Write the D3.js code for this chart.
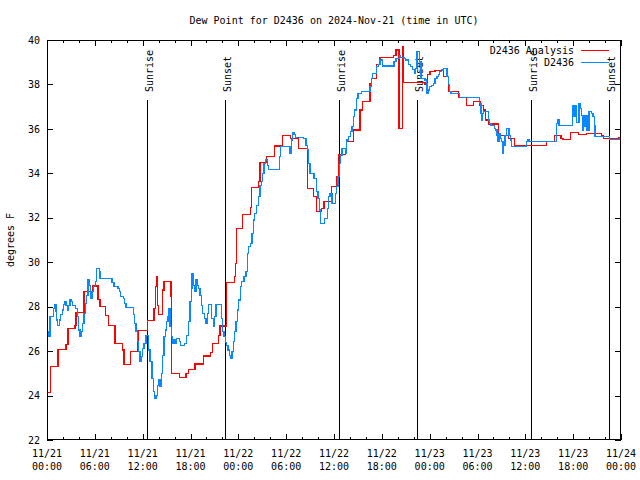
<!DOCTYPE html>
<html><head><meta charset="utf-8">
<script src="https://cdn.jsdelivr.net/npm/d3@7"></script>
<style>
body{margin:0;background:#fff}
svg{display:block}
text{font-family:"DejaVu Sans Mono",monospace;font-size:10px;fill:#000}
</style>
</head><body>
<svg id="chart" width="640" height="480"></svg>
<script>
const title = "Dew Point for D2436 on 2024-Nov-21 (time in UTC)";
const yLabel = "degrees F";
const yTicks = [22, 24, 26, 28, 30, 32, 34, 36, 38, 40];
const xMajorHours = [0, 6, 12, 18, 24, 30, 36, 42, 48, 54, 60, 66, 72];
const xMinorHours = d3.range(0, 73, 2);
const xTickLabels = [
  ["11/21","00:00"],["11/21","06:00"],["11/21","12:00"],["11/21","18:00"],
  ["11/22","00:00"],["11/22","06:00"],["11/22","12:00"],["11/22","18:00"],
  ["11/23","00:00"],["11/23","06:00"],["11/23","12:00"],["11/23","18:00"],
  ["11/24","00:00"]];
const sunEventHours = [12.58, 22.35, 36.67, 46.45, 60.75, 70.48];
const sunEventLabels = ["Sunrise", "Sunset", "Sunrise", "Sunset", "Sunrise", "Sunset"];
const seriesNames = ["D2436 Analysis", "D2436"];
const seriesColors = ["#ff0000", "#0a88ff"];

const analysisHours = [0,0.46,1.38,2.38,2.63,3.51,3.64,4.64,5.77,6.40,6.65,7.36,7.69,8.53,9.45,9.66,10.5,11.41,12.58,13.42,13.59,13.76,13.89,13.96,14.51,14.68,15.55,15.64,16.6,17.44,17.72,18.57,19.61,20.53,20.74,21.49,21.7,22.52,23.5,23.62,23.8,24.5,25.55,25.68,26.51,26.72,27.56,28.51,29.52,30.57,31.57,32.65,33.4,33.83,34.46,34.75,35.71,36.34,36.63,37.47,37.6,38.42,39.26,39.55,40.52,40.73,41.36,41.77,43.44,43.78,44.15,44.57,44.74,47.42,47.76,48.04,48.67,49.71,50.34,51.59,52.65,53.48,54.32,54.73,55.03,55.36,56.61,57.87,58.62,62.68,63.64,64.48,64.73,65.69,66.65,67.7,69.58,69.78,71.66,72];
const analysisValues = [24.15,25.3,26.08,26.3,27.0,27.17,27.74,28.7,28.93,28.33,28.0,27.6,27.17,26.35,26.05,25.4,25.97,26.94,27.39,27.92,28.9,29.35,28.07,27.66,28.75,29.15,28.45,25.0,24.83,25.0,25.18,25.42,25.78,25.95,26.35,26.72,27.13,29.1,29.35,29.95,31.5,32.15,32.45,33.37,33.65,34.5,34.75,35.23,35.7,35.58,35.13,33.33,32.95,32.3,32.42,32.72,33.4,33.85,34.86,35.13,35.43,35.95,36.85,37.22,38.05,38.25,38.88,39.2,39.3,39.55,36.0,39.7,38.1,38.0,38.45,38.57,38.62,38.35,37.67,37.42,37.05,37.22,37.07,36.85,36.4,36.22,35.72,35.58,35.27,35.43,35.72,35.58,35.53,35.83,35.75,35.8,35.68,35.58,35.62,35.62];

const obsHours = [0,0.13,0.38,0.79,0.97,1.13,1.22,1.29,1.54,1.72,1.92,2.04,2.22,2.38,2.55,2.72,2.89,3.05,3.22,3.55,3.8,3.98,4.14,4.3,4.48,4.64,4.8,4.98,5.14,5.31,5.48,5.64,5.81,6.06,6.23,6.56,6.65,8.15,8.4,8.91,9.07,9.24,9.57,9.75,9.91,10.83,11.0,11.16,11.33,11.5,11.67,11.83,12.0,12.17,12.42,12.76,12.92,13.17,13.33,13.51,13.67,13.84,14.01,14.17,14.34,14.51,14.68,14.84,15.02,15.18,15.3,15.43,15.59,15.77,15.93,16.09,16.27,16.6,16.77,17.27,17.52,17.78,17.94,18.1,18.19,18.35,18.53,18.69,18.85,19.03,19.19,19.36,19.53,19.78,19.95,20.11,20.28,20.61,20.86,21.04,21.2,21.86,22.04,22.2,22.37,22.54,22.7,22.87,23.04,23.21,23.37,23.55,23.71,23.87,24.05,24.25,24.42,24.71,24.96,25.13,25.3,25.55,25.72,25.88,26.05,26.3,26.56,26.72,26.88,27.06,27.22,27.38,27.64,27.81,29.14,29.32,30.48,30.65,30.82,30.98,31.15,32.15,32.49,32.65,32.83,32.99,33.49,33.83,33.99,34.16,34.33,34.83,35.16,35.34,35.5,35.75,36.16,36.34,36.5,36.67,36.84,37.0,37.42,37.6,37.85,38.1,38.26,38.42,38.6,38.85,39.01,39.43,40.52,40.68,40.86,41.36,41.56,41.77,42.11,43.53,43.78,44.19,44.37,44.78,44.95,45.37,45.62,45.87,46.07,46.25,46.41,46.75,46.92,47.42,47.58,47.67,47.83,48.01,48.26,48.51,48.67,48.92,49.09,49.26,49.51,49.76,50.18,50.34,50.51,50.68,51.77,54.28,54.44,54.53,54.61,54.78,55.36,55.53,55.7,56.11,56.29,56.45,56.54,56.7,56.86,57.04,57.2,57.29,57.45,57.62,57.95,58.12,58.29,60.13,60.31,60.46,63.94,64.07,64.23,65.89,66.07,66.23,66.4,66.73,66.9,67.07,67.15,67.24,67.4,67.53,67.66,67.74,67.86,67.99,68.33,68.49,68.65,68.74,70.59,71.88,72];
const obsValues = [26.87,26.65,27.55,27.92,28.1,27.77,27.4,27.17,27.4,27.66,27.85,28.1,28.25,28.04,27.85,28.07,28.34,28.22,28.07,27.9,27.55,26.95,26.65,26.87,27.25,27.7,28.15,28.52,29.24,28.97,28.37,28.67,28.9,29.13,29.73,29.58,29.28,29.1,28.9,28.83,28.67,28.45,28.37,28.15,27.97,27.66,27.25,26.87,26.45,25.97,25.52,25.75,26.12,26.35,26.72,26.05,25.52,24.77,24.17,23.87,24.02,24.47,24.7,24.4,25.0,25.82,26.65,26.95,27.32,27.55,27.92,27.1,26.65,26.35,26.5,26.35,26.57,26.42,26.27,26.35,26.72,27.32,28.22,28.83,29.5,28.97,28.67,29.2,28.97,28.83,28.52,28.07,27.7,27.47,27.25,27.7,28.1,27.47,27.1,27.55,28.1,27.47,26.87,26.65,26.4,26.27,26.05,25.82,25.67,25.97,26.42,26.87,27.32,27.85,28.3,28.9,29.13,29.35,29.58,30.4,30.7,30.85,31.3,31.9,32.2,32.57,32.95,33.47,33.62,34.0,34.45,34.6,34.37,34.18,34.75,35.2,34.9,35.5,35.83,35.75,35.62,35.58,35.27,35.05,34.45,34.0,33.77,33.18,32.87,32.35,31.75,31.97,32.42,32.95,33.1,32.65,33.1,33.4,33.85,34.45,34.82,35.13,34.9,35.5,35.65,35.88,36.1,36.55,36.85,37.38,37.6,37.67,37.9,38.28,38.5,38.8,38.88,39.1,38.83,39.03,39.18,39.32,39.22,39.18,39.1,38.88,38.8,38.68,38.5,38.72,39.47,39.03,38.28,38.2,38.05,37.6,37.75,37.9,37.97,38.05,38.28,38.35,38.46,38.57,38.65,38.7,38.35,38.0,37.67,37.6,37.4,37.15,36.7,36.4,36.7,36.77,36.4,36.25,36.17,36.03,35.95,35.72,35.42,35.8,35.58,35.42,34.9,35.27,35.72,36.0,35.72,35.5,35.2,35.42,35.5,35.42,36.25,36.43,36.17,37.07,36.55,37.07,36.3,37.15,36.93,36.6,35.95,36.62,36.1,36.62,35.95,36.62,35.95,36.77,36.7,36.55,36.17,35.65,35.53,35.58,35.58];

const t0 = Date.UTC(2024, 10, 21);
const hr = h => new Date(t0 + h * 3600000);

const svg = d3.select("#chart");
const L = 47, R = 621, T = 40, B = 440;
const x = d3.scaleUtc().domain([hr(0), hr(72)]).range([L, R]);
const y = d3.scaleLinear().domain([22, 40]).range([B, T]);

svg.append("rect").attr("width", 640).attr("height", 480).attr("fill", "#fff");

// title
svg.append("text").attr("x", (L + R) / 2).attr("y", 24).attr("text-anchor", "middle").text(title);
// y label
svg.append("text").attr("transform", `translate(14,${(T + B) / 2}) rotate(-90)`)
  .attr("text-anchor", "middle").text(yLabel);

// clip
svg.append("clipPath").attr("id", "clip").append("rect")
  .attr("x", L).attr("y", T).attr("width", R - L).attr("height", B - T);

// sunrise / sunset markers
const sun = svg.append("g");
sunEventHours.forEach((h, i) => {
  const xx = Math.round(x(hr(h))) + 0.5;
  sun.append("line").attr("x1", xx).attr("x2", xx).attr("y1", 100).attr("y2", B)
    .attr("stroke", "#000").attr("stroke-width", 1).attr("shape-rendering", "crispEdges");
  sun.append("text").attr("transform", `translate(${xx + 5},92) rotate(-90)`)
    .attr("text-anchor", "start").text(sunEventLabels[i]);
});

// axes ticks (inward, mirrored)
function tickStyle(g) {
  g.select(".domain").remove();
  g.selectAll("line").attr("stroke", "#000").attr("shape-rendering", "crispEdges");
  g.selectAll("text").style("font-family", '"DejaVu Sans Mono",monospace').style("font-size", "10px");
}
const majorDates = xMajorHours.map(hr);
const minorDates = xMinorHours.filter(h => h % 6 !== 0).map(hr);
svg.append("g").attr("transform", `translate(0,${B})`)
  .call(d3.axisBottom(x).tickValues(majorDates).tickSizeInner(-6).tickSizeOuter(0).tickFormat(""))
  .call(tickStyle);
svg.append("g").attr("transform", `translate(0,${B})`)
  .call(d3.axisBottom(x).tickValues(minorDates).tickSizeInner(-3).tickSizeOuter(0).tickFormat(""))
  .call(tickStyle);
svg.append("g").attr("transform", `translate(0,${T})`)
  .call(d3.axisTop(x).tickValues(majorDates).tickSizeInner(-6).tickSizeOuter(0).tickFormat(""))
  .call(tickStyle);
svg.append("g").attr("transform", `translate(0,${T})`)
  .call(d3.axisTop(x).tickValues(minorDates).tickSizeInner(-3).tickSizeOuter(0).tickFormat(""))
  .call(tickStyle);
svg.append("g").attr("transform", `translate(${L},0)`)
  .call(d3.axisLeft(y).tickValues(yTicks).tickSizeInner(-6).tickSizeOuter(0).tickPadding(7).tickFormat(d3.format("d")))
  .call(tickStyle);
svg.append("g").attr("transform", `translate(${R},0)`)
  .call(d3.axisRight(y).tickValues(yTicks).tickSizeInner(-6).tickSizeOuter(0).tickFormat(""))
  .call(tickStyle);

// x tick labels (two lines)
const xl = svg.append("g");
xMajorHours.forEach((h, i) => {
  const t = xl.append("text").attr("text-anchor", "middle");
  t.append("tspan").attr("x", x(hr(h))).attr("y", 457).text(xTickLabels[i][0]);
  t.append("tspan").attr("x", x(hr(h))).attr("y", 470).text(xTickLabels[i][1]);
});

// data
const line = d3.line().curve(d3.curveStepAfter).x(d => x(hr(d[0]))).y(d => y(d[1]));
const analysis = analysisHours.map((h, i) => [h, analysisValues[i]]);
const obs = obsHours.map((h, i) => [h, obsValues[i]]);
const dg = svg.append("g").attr("clip-path", "url(#clip)");
[analysis, obs].forEach((data, i) => {
  dg.append("path").datum(data).attr("d", line).attr("fill", "none")
    .attr("stroke", seriesColors[i]).attr("stroke-width", 1.2)
    .attr("shape-rendering", "crispEdges");
});

// border
svg.append("rect").attr("x", L + 0.5).attr("y", T + 0.5).attr("width", R - L - 1).attr("height", B - T - 1)
  .attr("fill", "none").attr("stroke", "#000").attr("shape-rendering", "crispEdges");

// legend
const lg = svg.append("g");
seriesNames.forEach((n, i) => {
  const yy = 50 + i * 12;
  lg.append("text").attr("x", 574).attr("y", yy).attr("dy", "0.35em").attr("text-anchor", "end").text(n);
  lg.append("line").attr("x1", 581).attr("x2", 609).attr("y1", yy + 0.5).attr("y2", yy + 0.5)
    .attr("stroke", seriesColors[i]).attr("stroke-width", 1.2).attr("shape-rendering", "crispEdges");
});
</script>
</body></html>
